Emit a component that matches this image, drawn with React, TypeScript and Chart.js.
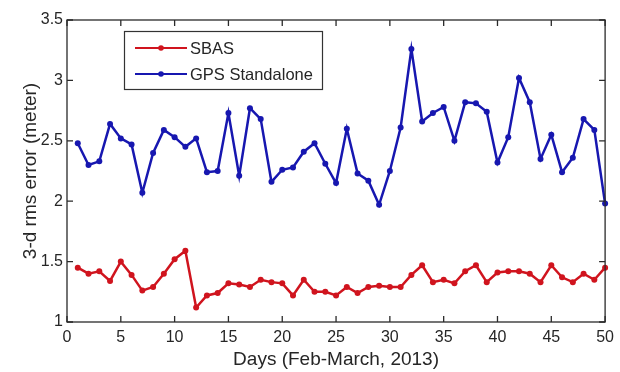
import React, { useEffect, useRef } from "react";
import { Chart, registerables } from "chart.js";

Chart.register(...registerables);

const days = [
  1, 2, 3, 4, 5, 6, 7, 8, 9, 10, 11, 12, 13, 14, 15, 16, 17, 18, 19, 20, 21, 22, 23, 24, 25,
  26, 27, 28, 29, 30, 31, 32, 33, 34, 35, 36, 37, 38, 39, 40, 41, 42, 43, 44, 45, 46, 47, 48, 49, 50,
];

const sbas = [
  1.45, 1.4, 1.42, 1.34, 1.5, 1.39, 1.26, 1.29, 1.4, 1.52, 1.59, 1.12, 1.22, 1.24, 1.32, 1.31, 1.29,
  1.35, 1.33, 1.32, 1.22, 1.35, 1.25, 1.25, 1.22, 1.29, 1.24, 1.29, 1.3, 1.29, 1.29, 1.39, 1.47,
  1.33, 1.35, 1.32, 1.42, 1.47, 1.33, 1.41, 1.42, 1.42, 1.4, 1.33, 1.47, 1.37, 1.33, 1.4, 1.35, 1.45,
];

const gpsStandalone = [
  2.48, 2.3, 2.33, 2.64, 2.52, 2.47, 2.07, 2.4, 2.59, 2.53, 2.45, 2.52, 2.24, 2.25, 2.73, 2.21, 2.77,
  2.68, 2.16, 2.26, 2.28, 2.41, 2.48, 2.31, 2.15, 2.6, 2.23, 2.17, 1.97, 2.25, 2.61, 3.26, 2.66,
  2.73, 2.78, 2.5, 2.82, 2.81, 2.74, 2.32, 2.53, 3.02, 2.82, 2.35, 2.55, 2.24, 2.36, 2.68, 2.59, 1.98,
];

const xTicks = [0, 5, 10, 15, 20, 25, 30, 35, 40, 45, 50];
const yTicks = [1, 1.5, 2, 2.5, 3, 3.5];

const seriesLabels = ["SBAS", "GPS Standalone"];
const RED = "#d0141e";
const BLUE = "#1717b0";
const FONT = "'Liberation Sans', Arial, sans-serif";

const boxTicksPlugin = {
  id: "boxTicks",
  afterDraw(chart: any) {
    const { ctx, chartArea } = chart;
    const { left, right, top, bottom } = chartArea;
    const xs = chart.scales.x;
    const ys = chart.scales.y;
    const tl = 6;
    ctx.save();
    ctx.strokeStyle = "#2a2a2a";
    ctx.lineWidth = 1.3;
    ctx.strokeRect(left, top, right - left, bottom - top);
    ctx.beginPath();
    xTicks.forEach((v) => {
      const px = xs.getPixelForValue(v);
      ctx.moveTo(px, bottom);
      ctx.lineTo(px, bottom - tl);
      ctx.moveTo(px, top);
      ctx.lineTo(px, top + tl);
    });
    yTicks.forEach((v) => {
      const py = ys.getPixelForValue(v);
      ctx.moveTo(left, py);
      ctx.lineTo(left + tl, py);
      ctx.moveTo(right, py);
      ctx.lineTo(right - tl, py);
    });
    ctx.stroke();

    // legend
    const bx = 124.5,
      by = 31.5,
      bw = 198,
      bh = 58;
    ctx.fillStyle = "#ffffff";
    ctx.fillRect(bx, by, bw, bh);
    ctx.strokeStyle = "#333333";
    ctx.lineWidth = 1.2;
    ctx.strokeRect(bx, by, bw, bh);
    const rows = [48, 74];
    chart.data.datasets.forEach((ds: any, i: number) => {
      const y = rows[i];
      ctx.strokeStyle = ds.borderColor;
      ctx.lineWidth = 2.2;
      ctx.beginPath();
      ctx.moveTo(135, y);
      ctx.lineTo(187, y);
      ctx.stroke();
      ctx.fillStyle = ds.borderColor;
      ctx.beginPath();
      ctx.arc(161, y, 2.8, 0, Math.PI * 2);
      ctx.fill();
      ctx.fillStyle = "#262626";
      ctx.font = `16.5px ${FONT}`;
      ctx.textBaseline = "middle";
      ctx.textAlign = "left";
      ctx.fillText(ds.label, 190, y + 1);
    });
    ctx.restore();
  },
};

export default function App() {
  const ref = useRef<HTMLCanvasElement>(null);

  useEffect(() => {
    if (!ref.current) return;
    const chart = new Chart(ref.current, {
      type: "line",
      data: {
        datasets: [
          {
            label: seriesLabels[0],
            data: days.map((d, i) => ({ x: d, y: sbas[i] })),
            borderColor: RED,
            backgroundColor: RED,
            borderWidth: 2.5,
            pointRadius: 3,
            pointBorderWidth: 0,
            tension: 0,
            clip: false as any,
          },
          {
            label: seriesLabels[1],
            data: days.map((d, i) => ({ x: d, y: gpsStandalone[i] })),
            borderColor: BLUE,
            backgroundColor: BLUE,
            borderWidth: 2.5,
            pointRadius: 3,
            pointBorderWidth: 0,
            tension: 0,
            clip: false as any,
          },
        ],
      },
      options: {
        responsive: false,
        animation: false,
        layout: { padding: { top: 20, right: 8, left: 0, bottom: 0 } },
        plugins: { legend: { display: false }, tooltip: { enabled: false } },
        scales: {
          x: {
            type: "linear",
            min: 0,
            max: 50,
            afterFit: (s: any) => {
              s.height = 50;
            },
            afterBuildTicks: (s: any) => {
              s.ticks = xTicks.map((v) => ({ value: v }));
            },
            grid: { display: false, drawTicks: false },
            border: { display: false },
            ticks: {
              color: "#262626",
              font: { family: FONT, size: 16 },
              padding: 6,
              maxRotation: 0,
              callback: (v: any) => `${v}`,
            },
            title: {
              display: true,
              text: "Days (Feb-March, 2013)",
              color: "#262626",
              font: { family: FONT, size: 19 },
              padding: { top: 0, bottom: 1 },
            },
          },
          y: {
            type: "linear",
            min: 1,
            max: 3.5,
            afterFit: (s: any) => {
              s.width = 67;
            },
            afterBuildTicks: (s: any) => {
              s.ticks = yTicks.map((v) => ({ value: v }));
            },
            grid: { display: false, drawTicks: false },
            border: { display: false },
            ticks: {
              color: "#262626",
              font: { family: FONT, size: 16 },
              padding: 4,
              callback: (v: any) => `${v}`,
            },
            title: {
              display: true,
              text: "3-d rms error (meter)",
              color: "#262626",
              font: { family: FONT, size: 19 },
              padding: { top: 19, bottom: 0 },
            },
          },
        },
      },
      plugins: [boxTicksPlugin],
    });
    return () => chart.destroy();
  }, []);

  return (
    <div style={{ position: "fixed", left: 0, top: 0, width: 620, height: 372, background: "#fff" }}>
      <canvas ref={ref} width={620} height={372} style={{ display: "block" }} />
    </div>
  );
}
